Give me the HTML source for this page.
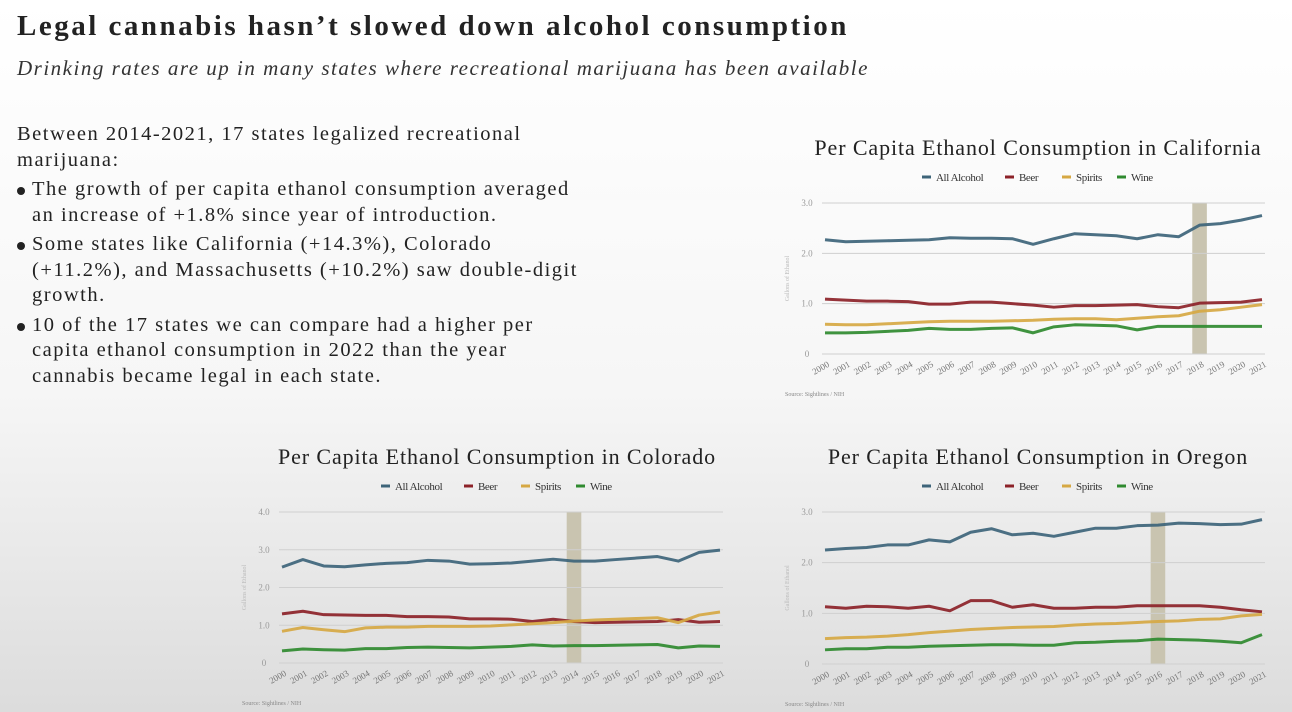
<!DOCTYPE html>
<html><head><meta charset="utf-8"><style>
html,body{margin:0;padding:0;width:1292px;height:712px;overflow:hidden;font-family:"Liberation Serif",serif;}
body{background:linear-gradient(180deg,#ffffff 0%,#f6f6f6 55%,#dcdcdc 100%);position:relative}
.h{position:absolute;left:17px;top:10px;font-size:29px;color:#222;font-weight:bold;letter-spacing:2.5px}
.s{position:absolute;left:17px;top:56px;font-size:21px;font-style:italic;color:#333;letter-spacing:1.5px}
.b{position:absolute;left:17px;top:122px;width:565px;font-size:20.5px;line-height:25.5px;color:#222;letter-spacing:1.5px}
.b p{margin:0}
.li{position:relative;padding-left:15px;margin-top:4px}
.li:before{content:"";position:absolute;left:0;top:10px;width:8px;height:8px;border-radius:50%;background:#222}
svg{position:absolute;left:0;top:0}
</style></head><body>
<div class="h">Legal cannabis hasn’t slowed down alcohol consumption</div>
<div class="s">Drinking rates are up in many states where recreational marijuana has been available</div>
<div class="b">
<p>Between 2014-2021, 17 states legalized recreational marijuana:</p>
<div class="li">The growth of per capita ethanol consumption averaged an increase of +1.8% since year of introduction.</div>
<div class="li">Some states like California (+14.3%), Colorado (+11.2%), and Massachusetts (+10.2%) saw double-digit growth.</div>
<div class="li">10 of the 17 states we can compare had a higher per capita ethanol consumption in 2022 than the year cannabis became legal in each state.</div>
</div>
<svg id="c" width="1292" height="712"></svg>
<script>
const years=[2000,2001,2002,2003,2004,2005,2006,2007,2008,2009,2010,2011,2012,2013,2014,2015,2016,2017,2018,2019,2020,2021];
const caAll=[2.27,2.23,2.24,2.25,2.26,2.27,2.31,2.30,2.30,2.29,2.18,2.29,2.39,2.37,2.35,2.29,2.37,2.33,2.56,2.59,2.66,2.75];
const caBeer=[1.09,1.07,1.05,1.05,1.04,0.99,0.99,1.03,1.03,1.00,0.97,0.93,0.96,0.96,0.97,0.98,0.94,0.92,1.01,1.02,1.03,1.08];
const caSpirits=[.59,.58,.58,.60,.62,.64,.65,.65,.65,.66,.67,.69,.70,.70,.68,.71,.74,.76,.85,.88,.93,.98];
const caWine=[.42,.42,.43,.45,.47,.51,.49,.49,.51,.52,.42,.54,.58,.57,.56,.48,.55,.55,.55,.55,.55,.55];
const coAll=[2.54,2.74,2.57,2.55,2.60,2.64,2.66,2.72,2.70,2.62,2.63,2.65,2.70,2.75,2.70,2.70,2.74,2.78,2.82,2.70,2.93,2.99];
const coBeer=[1.30,1.37,1.28,1.27,1.26,1.26,1.23,1.23,1.22,1.17,1.17,1.16,1.10,1.16,1.10,1.07,1.08,1.09,1.10,1.15,1.08,1.10];
const coSpirits=[.84,.94,.88,.83,.93,.95,.95,.97,.97,.97,.98,1.01,1.04,1.07,1.11,1.14,1.16,1.18,1.20,1.07,1.27,1.35];
const coWine=[.32,.37,.35,.34,.38,.38,.41,.42,.41,.40,.42,.44,.48,.45,.46,.46,.47,.48,.49,.40,.45,.44];
const orAll=[2.25,2.28,2.30,2.35,2.35,2.45,2.41,2.60,2.67,2.55,2.58,2.52,2.60,2.68,2.68,2.73,2.74,2.78,2.77,2.75,2.76,2.85];
const orBeer=[1.13,1.10,1.14,1.13,1.10,1.14,1.05,1.25,1.25,1.12,1.17,1.10,1.10,1.12,1.12,1.15,1.15,1.15,1.15,1.12,1.07,1.03];
const orSpirits=[.50,.52,.53,.55,.58,.62,.65,.68,.70,.72,.73,.74,.77,.79,.80,.82,.84,.85,.88,.89,.95,.98];
const orWine=[.28,.30,.30,.33,.33,.35,.36,.37,.38,.38,.37,.37,.42,.43,.45,.46,.49,.48,.47,.45,.42,.58];
const seriesNames=["All Alcohol","Beer","Spirits","Wine"];
const colors=["#3d6479","#8c2228","#d6a843","#2f8a2f"];
const NS="http://www.w3.org/2000/svg";
const svg=document.getElementById('c');
function mk(t,a,p){const e=document.createElementNS(NS,t);for(const k in a)e.setAttribute(k,a[k]);(p||svg).appendChild(e);return e;}
function chart(id,title,cfg,data,legalYear){
 const g=mk('g',{});
 
 
 const {x0,x1,yTop,yBot,max,ticks,tx}=cfg;
 const xs=i=>x0+(x1-x0)*i/(years.length-1);
 const ys=v=>yBot-(yBot-yTop)*v/max;
 const t=mk('text',{x:tx,y:yTop-48,'font-size':22,'text-anchor':'middle',fill:'#222','letter-spacing':'0.9'},g);t.textContent=title;
 
 const lx=[tx-116,tx-33,tx+24,tx+79];
 seriesNames.forEach((n,i)=>{
  const le=mk('g',{},g);
  
  mk('line',{x1:lx[i],x2:lx[i]+9,y1:yTop-26,y2:yTop-26,stroke:colors[i],'stroke-width':3},le);
  const tt=mk('text',{x:lx[i]+14,y:yTop-22,'font-size':11,fill:'#333','letter-spacing':'-0.4'},le);tt.textContent=n;
 });
 const li=years.indexOf(legalYear);const w=(x1-x0)/21;
 const sh=mk('rect',{x:xs(li)-w*0.35,y:yTop,width:w*0.7,height:yBot-yTop,fill:'#c9c4b0'},g);
 
 ticks.forEach(v=>{
  mk('line',{x1:x0-3,x2:x1+3,y1:ys(v),y2:ys(v),stroke:'#cfcfcf','stroke-width':1},g);
  const tl=mk('text',{x:x0-18,y:ys(v)+3,'font-size':9,fill:'#999','text-anchor':'middle'},g);tl.textContent=v===0?'0':v.toFixed(1);
 });
 const yt=mk('text',{x:0,y:0,'font-size':6,fill:'#bbb','text-anchor':'middle',transform:`translate(${x0-36},${(yTop+yBot)/2}) rotate(-90)`},g);yt.textContent='Gallons of Ethanol';
 
 years.forEach((y,i)=>{const tl=mk('text',{x:0,y:0,'font-size':9,fill:'#777','text-anchor':'end',transform:`translate(${xs(i)+5},${yBot+12}) rotate(-30)`},g);tl.textContent=y;});
 data.forEach((d,si)=>{
  const p=mk('polyline',{points:d.map((v,i)=>xs(i)+','+ys(v)).join(' '),fill:'none',stroke:colors[si],'stroke-width':3,'stroke-linejoin':'round',opacity:0.92},g);
  
 });
 const src=mk('text',{x:x0-40,y:yBot+42,'font-size':6,fill:'#888'},g);src.textContent='Source: Sightlines / NIH';
}
chart('chart-california','Per Capita Ethanol Consumption in California',{x0:825,x1:1262,yTop:203,yBot:354,max:3,ticks:[0,1,2,3],tx:1038},[caAll,caBeer,caSpirits,caWine],2018);
chart('chart-colorado','Per Capita Ethanol Consumption in Colorado',{x0:282,x1:720,yTop:512,yBot:663,max:4,ticks:[0,1,2,3,4],tx:497},[coAll,coBeer,coSpirits,coWine],2014);
chart('chart-oregon','Per Capita Ethanol Consumption in Oregon',{x0:825,x1:1262,yTop:512,yBot:664,max:3,ticks:[0,1,2,3],tx:1038},[orAll,orBeer,orSpirits,orWine],2016);
</script>
</body></html>
